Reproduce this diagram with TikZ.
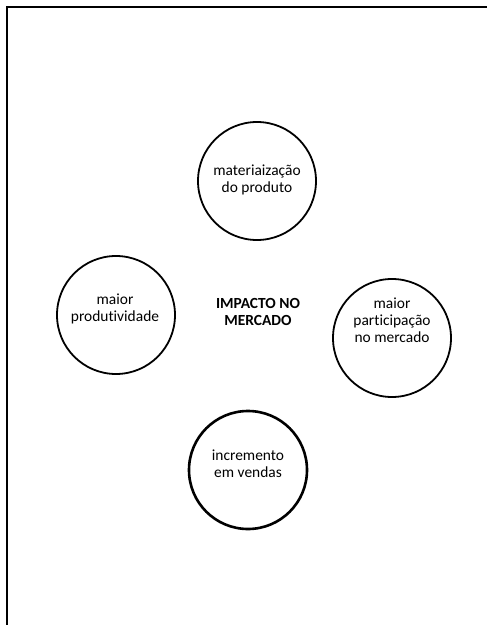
\documentclass[tikz,border=0pt]{standalone}
\usepackage{fontspec}
\setmainfont{Carlito}[Ligatures=NoCommon]
\begin{document}
\begin{tikzpicture}[x=1bp,y=-1bp,
  bubble/.style={draw=black,circle,line width=1.8bp,minimum size=118bp,inner sep=0pt},
  bubblethick/.style={bubble,line width=2.6bp},
  txt/.style={align=center,inner sep=0pt,font=\fontsize{15.5}{17}\selectfont},
  hub/.style={txt,font=\fontsize{15.5}{17}\selectfont\bfseries},
  frame/.style={line width=2.2bp,line cap=rect}]
\useasboundingbox (0,0) rectangle (491,625);
\coordinate (fa) at (7,625);
\coordinate (fb) at (7,7);
\coordinate (fc) at (486,7);
\draw[frame] (fa) -- (fb) -- (fc);
\node[bubble] (top) at (257,181) {};
\node[bubble] (left) at (116,315) {};
\node[bubble] (right) at (392,338) {};
\node[bubblethick] (bottom) at (248,470) {};
\node[txt] (toptext) at (257,180) {materiaização\\do produto};
\node[txt] (lefttext) at (115,309) {maior\\produtividade};
\node[txt] (righttext) at (392,320) {maior\\participação\\no mercado};
\node[txt] (bottomtext) at (248,464) {incremento\\em vendas};
\node[hub] (hub) at (258,312) {IMPACTO NO\\MERCADO};
\end{tikzpicture}
\end{document}
